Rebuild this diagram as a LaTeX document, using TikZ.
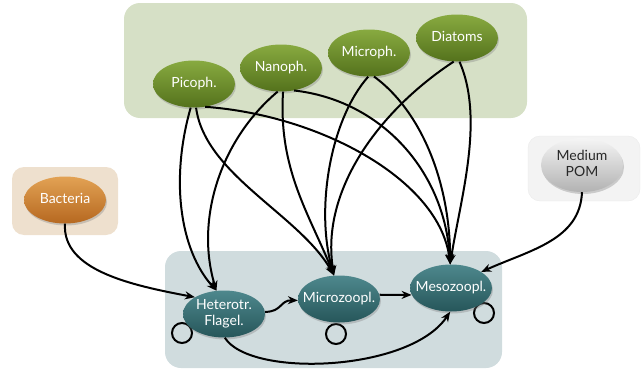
\documentclass[tikz,border=0pt]{standalone}
\usepackage{fontspec}
\setmainfont{Lato}
\usetikzlibrary{arrows.meta,shapes.geometric,shadows,backgrounds}
\definecolor{gbox}{HTML}{D6E0C6}
\definecolor{bbox}{HTML}{EEE0CE}
\definecolor{pbox}{HTML}{F3F3F3}
\definecolor{zbox}{HTML}{D0DCDE}
\newcommand\tx[1]{\makebox[0pt]{\begin{tabular}{@{}c@{}}#1\end{tabular}}}
\tikzset{
  grp/.style={rounded corners=16pt},
  ell/.style={ellipse, inner sep=0pt, minimum width=82pt, minimum height=47pt,
    font=\fontsize{14}{16}\selectfont, text=white,
    drop shadow={opacity=0.35, shadow xshift=1pt, shadow yshift=-2pt}},
  phyto/.style={ell, top color={rgb,255:red,136;green,170;blue,64}, bottom color={rgb,255:red,84;green,114;blue,28}},
  zoo/.style={ell, top color={rgb,255:red,78;green,136;blue,141}, bottom color={rgb,255:red,38;green,86;blue,90}},
  bact/.style={ell, top color={rgb,255:red,226;green,162;blue,84}, bottom color={rgb,255:red,182;green,104;blue,32}},
  pom/.style={ell, text={rgb,255:red,40;green,40;blue,40}, minimum height=54pt,
    top color={rgb,255:red,245;green,245;blue,245}, bottom color={rgb,255:red,178;green,178;blue,178}},
  arr/.style={line width=2pt, -{Stealth[length=10pt,width=8pt]}},
  loopc/.style={line width=2pt}
}
\begin{document}
\begin{tikzpicture}[x=1pt,y=-1pt]
\useasboundingbox (0,0) rectangle (643,372);
% nodes
\node[phyto] (pico) at (194,84) {\tx{Picoph.}};
\node[phyto] (nano) at (281,68) {\tx{Nanoph.}};
\node[phyto] (micph) at (369,53) {\tx{Microph.}};
\node[phyto] (diat) at (457,38) {\tx{Diatoms}};
\node[bact] (bact) at (65,200) {\tx{Bacteria}};
\node[pom] (pom) at (582,165) {\tx{Medium\\POM}};
\node[zoo] (het) at (224,314) {\tx{Heterotr.\\Flagel.}};
\node[zoo] (micz) at (339,299) {\tx{Microzoopl.}};
\node[zoo] (mesz) at (451,288) {\tx{Mesozoopl.}};
% group boxes and self loops behind nodes
\begin{scope}[on background layer]
\fill[gbox,grp] (124,3) rectangle (527,118);
\fill[bbox,grp,rounded corners=12pt] (12,167) rectangle (118,235);
\filldraw[fill=pbox,draw=black!8,grp,rounded corners=12pt] (528,136) rectangle (640,201);
\fill[zbox,grp] (165,251) rectangle (502,368);
\draw[loopc] (182,333) circle (10pt);
\draw[loopc] (336,334) circle (10pt);
\draw[loopc] (484,313) circle (10pt);
\end{scope}
% phyto -> zoo
\draw[arr] (pico.262) .. controls (170,180) and (180,250) .. (het.108);
\draw[arr] (pico.275) .. controls (205,175) and (300,215) .. (micz.102);
\draw[arr] (pico.296) .. controls (320,115) and (440,180) .. (mesz.92);
\draw[arr] (nano.262) .. controls (220,140) and (195,220) .. (het.108);
\draw[arr] (nano.275) .. controls (278,170) and (310,215) .. (micz.102);
\draw[arr] (nano.300) .. controls (380,100) and (445,170) .. (mesz.92);
\draw[arr] (micph.268) .. controls (330,120) and (315,210) .. (micz.102);
\draw[arr] (micph.282) .. controls (420,110) and (450,180) .. (mesz.92);
\draw[arr] (diat.262) .. controls (380,110) and (320,190) .. (micz.102);
\draw[arr] (diat.276) .. controls (485,120) and (460,200) .. (mesz.92);
% other links
\draw[arr] (bact.south) .. controls (62,270) and (130,285) .. (het.150);
\draw[arr] (pom.south) .. controls (580,240) and (530,250) .. (mesz.28);
\draw[arr] (het.3) .. controls (282,312) and (280,300) .. (micz.182);
\draw[arr] (micz.6) -- (mesz.190);
\draw[arr] (het.272) .. controls (250,378) and (410,372) .. (mesz.268);
\end{tikzpicture}
\end{document}
